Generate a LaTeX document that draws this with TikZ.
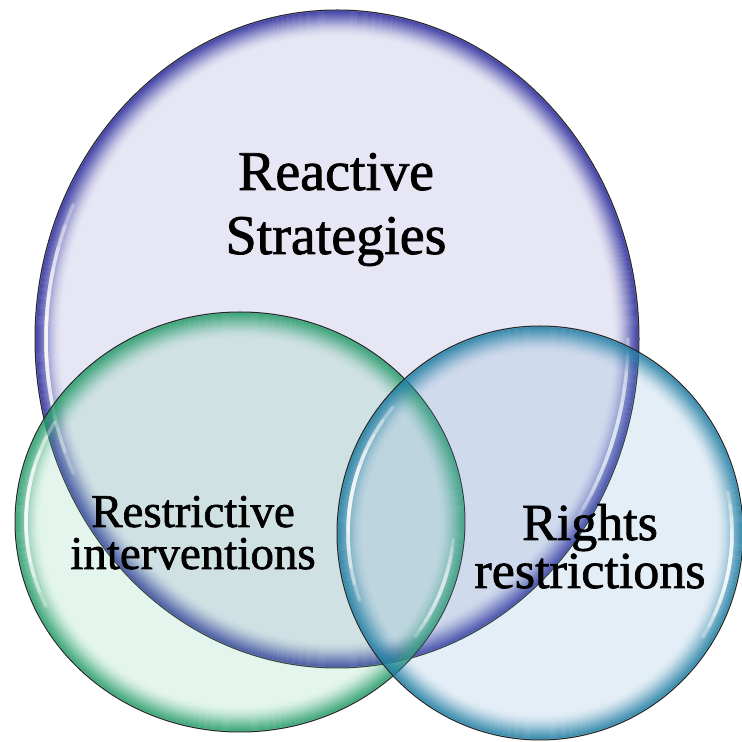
\documentclass[tikz,border=0pt]{standalone}
\usepackage{fontspec}
\setmainfont{Liberation Serif}
\newfontface\labelface{Liberation Serif}[FakeBold=1.4]
\definecolor{pfill}{RGB}{130,130,200}
\definecolor{prim}{RGB}{40,40,155}
\definecolor{gfill}{RGB}{115,205,160}
\definecolor{grim}{RGB}{36,155,105}
\definecolor{bfill}{RGB}{120,170,210}
\definecolor{brim}{RGB}{30,125,162}
% cx, cy, rx, ry, fill colour, rim colour
\newcommand\glassball[6]{%
  \fill[#5, fill opacity=0.2] (#1,#2) ellipse [x radius=#3, y radius=#4];
  \foreach \k in {0,...,25}{%
    \pgfmathsetmacro\rimop{0.6*(1-\k/26)^1.9}%
    \draw[#6, draw opacity=\rimop, line width=2pt] (#1,#2) ellipse [x radius=#3-1-\k, y radius=#4-1-\k];
  }%
}
% cx, cy, rx, ry, start angle, end angle
\newcommand\shine[6]{%
  \pgfmathsetmacro\shmid{(#5+#6)/2}%
  \pgfmathsetmacro\shhalf{(#6-#5)/2}%
  \pgfmathsetmacro\shrx{#3-11}%
  \pgfmathsetmacro\shry{#4-11}%
  \foreach \j in {0,...,5}{%
    \pgfmathsetmacro\sa{\shmid-\shhalf*(1-\j/6)}%
    \pgfmathsetmacro\sb{\shmid+\shhalf*(1-\j/6)}%
    \pgfmathsetmacro\sx{#1+\shrx*cos(\sa)}%
    \pgfmathsetmacro\sy{#2+\shry*sin(\sa)}%
    \draw[white, draw opacity=0.32, line width=3.5pt, line cap=round] (\sx,\sy) arc[start angle=\sa, end angle=\sb, x radius=\shrx, y radius=\shry];
  }%
}
\newcommand\outline[4]{%
  \draw[black!85, line width=1pt] (#1,#2) ellipse [x radius=#3, y radius=#4];
}
\tikzset{
  label text/.style={align=center, anchor=base, inner sep=0pt},
  bigtext/.style={label text, font=\labelface\fontsize{56}{64}\selectfont},
  lefttext/.style={label text, font=\labelface\fontsize{47}{42}\selectfont},
  righttext/.style={label text, font=\labelface\fontsize{52}{48}\selectfont}
}
\begin{document}
\begin{tikzpicture}[x=1pt, y=1pt]
\useasboundingbox (0,0) rectangle (742,742);
% Reactive strategies (purple)
\glassball{337}{403}{302}{329}{pfill}{prim}
\shine{337}{403}{302}{329}{155}{205}
\shine{337}{403}{302}{329}{-35}{0}
\outline{337}{403}{302}{329}
% Restrictive interventions (green)
\glassball{240}{220}{225}{210}{gfill}{grim}
\shine{240}{220}{225}{210}{150}{205}
\shine{240}{220}{225}{210}{-35}{-5}
\outline{240}{220}{225}{210}
% Rights restrictions (blue)
\glassball{540}{209}{203}{207}{bfill}{brim}
\shine{540}{209}{203}{207}{140}{200}
\shine{540}{209}{203}{207}{-32}{12}
\outline{540}{209}{203}{207}
% labels
\node[bigtext] (rs) at (336,488) {Reactive\\Strategies};
\node[lefttext] (ri) at (193,173) {Restrictive\\interventions};
\node[righttext] (rr) at (590,154) {Rights\\restrictions};
\end{tikzpicture}
\end{document}
